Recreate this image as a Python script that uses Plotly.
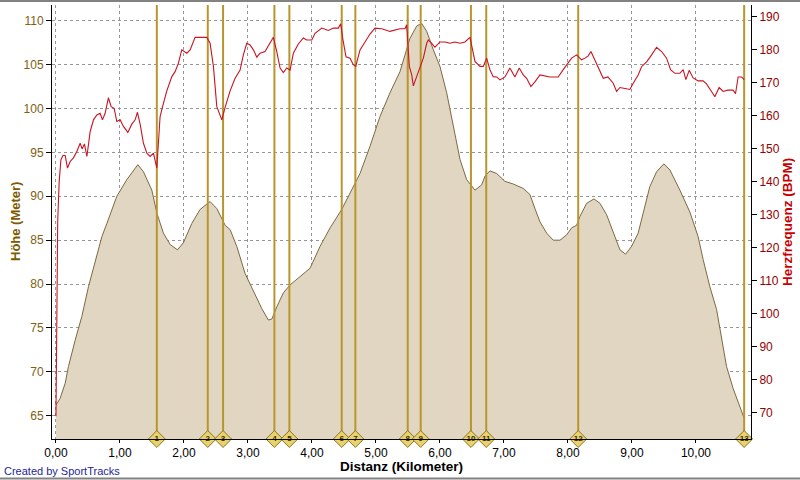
import plotly.graph_objects as go

# ---------------- data ----------------
elev_km = [0.00, 0.066, 0.144, 0.195, 0.30, 0.404, 0.508, 0.612, 0.717, 0.795, 0.951, 1.107, 1.279, 1.367,
           1.498, 1.576, 1.679, 1.784, 1.898, 1.991, 2.122, 2.252, 2.408, 2.513, 2.643, 2.721, 2.825, 2.955,
           3.085, 3.216, 3.319, 3.372, 3.450, 3.553, 3.658, 3.814, 3.970, 4.127, 4.283, 4.465, 4.621, 4.751,
           4.907, 5.063, 5.219, 5.375, 5.531, 5.636, 5.714, 5.793, 5.896, 6.000, 6.105, 6.208, 6.313, 6.417,
           6.547, 6.652, 6.703, 6.781, 6.886, 7.015, 7.145, 7.301, 7.406, 7.484, 7.562, 7.667, 7.770, 7.875,
           7.979, 8.057, 8.135, 8.187, 8.292, 8.406, 8.500, 8.604, 8.707, 8.812, 8.901, 8.994, 9.097, 9.175,
           9.279, 9.385, 9.499, 9.593, 9.749, 9.905, 10.034, 10.112, 10.217, 10.322, 10.400, 10.478, 10.581,
           10.686, 10.753]
elev_m = [66.2, 67.0, 68.7, 70.6, 73.6, 76.3, 79.7, 82.4, 85.4, 86.9, 90.0, 91.9, 93.6, 92.8,
          90.7, 88.1, 85.8, 84.5, 83.9, 84.7, 86.9, 88.5, 89.4, 88.6, 86.7, 86.2, 84.3, 81.2,
          79.3, 77.2, 75.9, 76.0, 77.4, 79.0, 79.9, 80.8, 81.8, 84.3, 86.4, 88.5, 90.7, 92.6,
          95.7, 99.1, 101.8, 104.2, 108.0, 109.4, 109.7, 108.8, 106.7, 104.8, 101.8, 98.0, 94.2, 91.9,
          90.7, 91.3, 92.3, 92.9, 92.6, 91.7, 91.4, 90.9, 90.2, 88.6, 87.1, 85.8, 85.0, 85.0,
          85.6, 86.4, 86.7, 87.7, 89.2, 89.7, 89.2, 87.9, 85.8, 83.9, 83.4, 84.3, 85.8, 88.1,
          91.1, 92.8, 93.7, 93.0, 90.7, 88.2, 85.4, 82.8, 79.7, 77.1, 74.0, 70.6, 68.1,
          66.0, 64.7]

hr_km = [0.0, 0.011, 0.027, 0.05, 0.077, 0.108, 0.144, 0.18, 0.222, 0.273, 0.326, 0.378, 0.409, 0.445,
         0.483, 0.514, 0.534, 0.586, 0.639, 0.69, 0.726, 0.768, 0.82, 0.862, 0.909, 0.951, 1.003, 1.054,
         1.123, 1.185, 1.237, 1.273, 1.315, 1.367, 1.42, 1.471, 1.523, 1.576, 1.627, 1.679, 1.732, 1.81,
         1.862, 1.913, 1.966, 2.044, 2.096, 2.174, 2.357, 2.408, 2.46, 2.513, 2.591, 2.643, 2.721, 2.799,
         2.877, 2.928, 2.981, 3.033, 3.085, 3.138, 3.189, 3.267, 3.345, 3.397, 3.45, 3.502, 3.553, 3.606,
         3.658, 3.709, 3.787, 3.865, 3.918, 3.997, 4.048, 4.153, 4.256, 4.334, 4.412, 4.449, 4.49, 4.532,
         4.595, 4.646, 4.684, 4.751, 4.829, 4.907, 4.985, 5.09, 5.219, 5.375, 5.454, 5.48, 5.521, 5.558,
         5.584, 5.626, 5.688, 5.74, 5.793, 5.818, 5.871, 5.922, 6.0, 6.078, 6.156, 6.234, 6.313, 6.391,
         6.469, 6.511, 6.547, 6.625, 6.677, 6.729, 6.781, 6.832, 6.886, 6.937, 7.015, 7.093, 7.171, 7.239,
         7.301, 7.354, 7.421, 7.484, 7.562, 7.718, 7.848, 7.926, 7.979, 8.057, 8.135, 8.213, 8.265, 8.317,
         8.359, 8.421, 8.5, 8.551, 8.625, 8.707, 8.76, 8.812, 8.89, 8.968, 9.02, 9.097, 9.15, 9.229,
         9.307, 9.385, 9.463, 9.541, 9.603, 9.671, 9.749, 9.8, 9.842, 9.894, 9.956, 10.034, 10.112, 10.165,
         10.243, 10.295, 10.362, 10.425, 10.498, 10.581, 10.618, 10.659, 10.712, 10.753]
hr_bpm = [69, 110, 128, 140, 146.7, 148, 148, 144.2, 146.2, 147.3, 149.2, 151.7, 150, 151.5,
          147.7, 152.2, 155.2, 158.8, 160.3, 160.8, 158.8, 160.8, 165.5, 162.8, 162.3, 158.3, 158.8, 156.8,
          155, 157.5, 158.8, 161.1, 157.5, 151.7, 148.7, 147.7, 148.7, 144.2, 159.8, 163.8, 167.6, 171.9,
          173.4, 176, 180, 179, 180, 183.8, 183.8, 182, 175, 162.8, 158.8, 162.6, 167.6, 171.4,
          173.9, 178.5, 182, 181.5, 180, 177.8, 179, 179.5, 182, 183.8, 179.5, 174.5, 173.1, 174.5,
          173.9, 179, 181.8, 183.6, 183, 183, 185, 186.6, 185.9, 186.6, 186.6, 187.9, 182.4, 177.9,
          177.5, 175.5, 175, 180, 182.4, 184.8, 186.6, 186.4, 185.6, 186.4, 186.4, 187.6, 175, 172.5,
          169.1, 171.5, 174.5, 177.5, 182, 183, 182, 180.8, 182.4, 182.4, 182, 182.4, 182, 182.4,
          183.8, 180, 176.5, 175, 175, 177.5, 174, 171.9, 171.8, 170.9, 171.8, 174.5, 171.8, 174.5,
          172.4, 171.4, 168.9, 170.3, 172.4, 171.8, 171.8, 174, 175.5, 177.5, 178.5, 177, 177.5, 178.2,
          179.5, 177, 173.4, 171.4, 171.8, 169.9, 167.4, 168.6, 168.3, 168, 169.9, 172.4, 174.9, 176.4,
          178.5, 180.8, 179.5, 177.5, 174, 172.9, 172.9, 174, 171, 173.8, 171.5, 170.6, 170.6, 169.7,
          167.4, 165.8, 168.6, 167.4, 167.8, 167.8, 166.7, 171.8, 171.8, 171]

lap_km = [1.576, 2.372, 2.611, 3.413, 3.647, 4.465, 4.678, 5.496, 5.699, 6.484, 6.723, 8.160, 10.753]
lap_labels = [str(i) for i in range(1, 14)]

x_ticks = [0, 1, 2, 3, 4, 5, 6, 7, 8, 9, 10]
elev_ticks = [65, 70, 75, 80, 85, 90, 95, 100, 105, 110]
hr_ticks = [70, 80, 90, 100, 110, 120, 130, 140, 150, 160, 170, 180, 190]

# ---------------- layout constants ----------------
XR = [-0.062, 10.86]
YR = [62.34, 111.8]
Y2R = [62.1, 193.6]
FONT = "Liberation Sans, Arial, sans-serif"
PW, PH = 699, 434

fig = go.Figure()

# elevation area
fig.add_trace(go.Scatter(
    x=elev_km, y=elev_m, mode="lines", fill="tozeroy",
    fillcolor="rgb(225,214,193)", line=dict(color="rgb(125,105,65)", width=1),
    hoverinfo="skip", showlegend=False))

# lap lines
lx, ly = [], []
for k in lap_km:
    lx += [k, k, None]
    ly += [YR[0], YR[1], None]
fig.add_trace(go.Scatter(
    x=lx, y=ly, mode="lines", line=dict(color="rgb(185,150,45)", width=2),
    hoverinfo="skip", showlegend=False))

# heart rate
fig.add_trace(go.Scatter(
    x=hr_km, y=hr_bpm, yaxis="y2", mode="lines",
    line=dict(color="rgb(200,20,35)", width=1.1),
    hoverinfo="skip", showlegend=False))

# lap diamonds
fig.add_trace(go.Scatter(
    x=lap_km, y=[YR[0]] * len(lap_km), mode="markers+text",
    marker=dict(symbol="diamond", size=13, color="rgb(232,210,110)",
                line=dict(color="rgb(140,115,35)", width=1)),
    text=["<b>%s</b>" % t for t in lap_labels], textposition="middle center",
    textfont=dict(family=FONT, size=8, color="rgb(60,45,5)"),
    cliponaxis=False, hoverinfo="skip", showlegend=False))

fig.update_layout(
    width=800, height=480,
    margin=dict(l=52, r=49, t=5, b=41),
    paper_bgcolor="white", plot_bgcolor="white",
    separators=", ",
    font=dict(family=FONT, size=12, color="black"),
    xaxis=dict(range=XR, tickvals=x_ticks, tickformat=".2f",
               showgrid=True, gridcolor="rgb(150,150,150)", griddash="dot", gridwidth=1,
               zeroline=False, showline=True, linecolor="black", linewidth=1,
               ticks="outside", ticklen=3, tickcolor="black",
               tickfont=dict(family=FONT, size=12, color="black")),
    yaxis=dict(range=YR, tickvals=elev_ticks,
               showgrid=True, gridcolor="rgb(150,150,150)", griddash="dot", gridwidth=1,
               zeroline=False, showline=True, linecolor="black", linewidth=1,
               ticks="outside", ticklen=5, tickcolor="black",
               tickfont=dict(family=FONT, size=12, color="rgb(128,96,16)")),
    yaxis2=dict(range=Y2R, tickvals=hr_ticks, overlaying="y", side="right",
                showgrid=False, zeroline=False, showline=True, linecolor="black", linewidth=1,
                ticks="outside", ticklen=5, tickcolor="black",
                tickfont=dict(family=FONT, size=12, color="rgb(150,0,0)")),
    annotations=[
        dict(text="<b>Höhe (Meter)</b>", xref="paper", yref="paper", x=(15 - 52) / PW, y=0.5,
             xanchor="center", yanchor="middle", textangle=-90, showarrow=False,
             font=dict(family=FONT, size=13, color="rgb(125,90,0)")),
        dict(text="<b>Herzfrequenz (BPM)</b>", xref="paper", yref="paper", x=1 + 36 / PW, y=0.5,
             xanchor="center", yanchor="middle", textangle=-90, showarrow=False,
             font=dict(family=FONT, size=13.5, color="rgb(200,0,0)")),
        dict(text="<b>Distanz (Kilometer)</b>", xref="paper", yref="paper", x=0.5, y=-27 / PH,
             xanchor="center", yanchor="middle", showarrow=False,
             font=dict(family=FONT, size=13.5, color="black")),
        dict(text="Created by SportTracks", xref="paper", yref="paper", x=-50 / PW, y=-32 / PH,
             xanchor="left", yanchor="middle", showarrow=False,
             font=dict(family=FONT, size=11, color="rgb(30,30,150)")),
    ],
    shapes=[
        dict(type="line", xref="paper", yref="paper", x0=-52 / PW, x1=1 + 49 / PW,
             y0=1 + 4 / PH, y1=1 + 4 / PH, line=dict(color="rgb(130,130,130)", width=2)),
        dict(type="line", xref="paper", yref="paper", x0=-52 / PW, x1=1 + 49 / PW,
             y0=-39.5 / PH, y1=-39.5 / PH, line=dict(color="rgb(130,130,130)", width=2)),
    ],
)

fig.write_html("out.html", config={"displayModeBar": False},
               post_script="document.body.style.margin='0';document.body.style.overflow='hidden';")
